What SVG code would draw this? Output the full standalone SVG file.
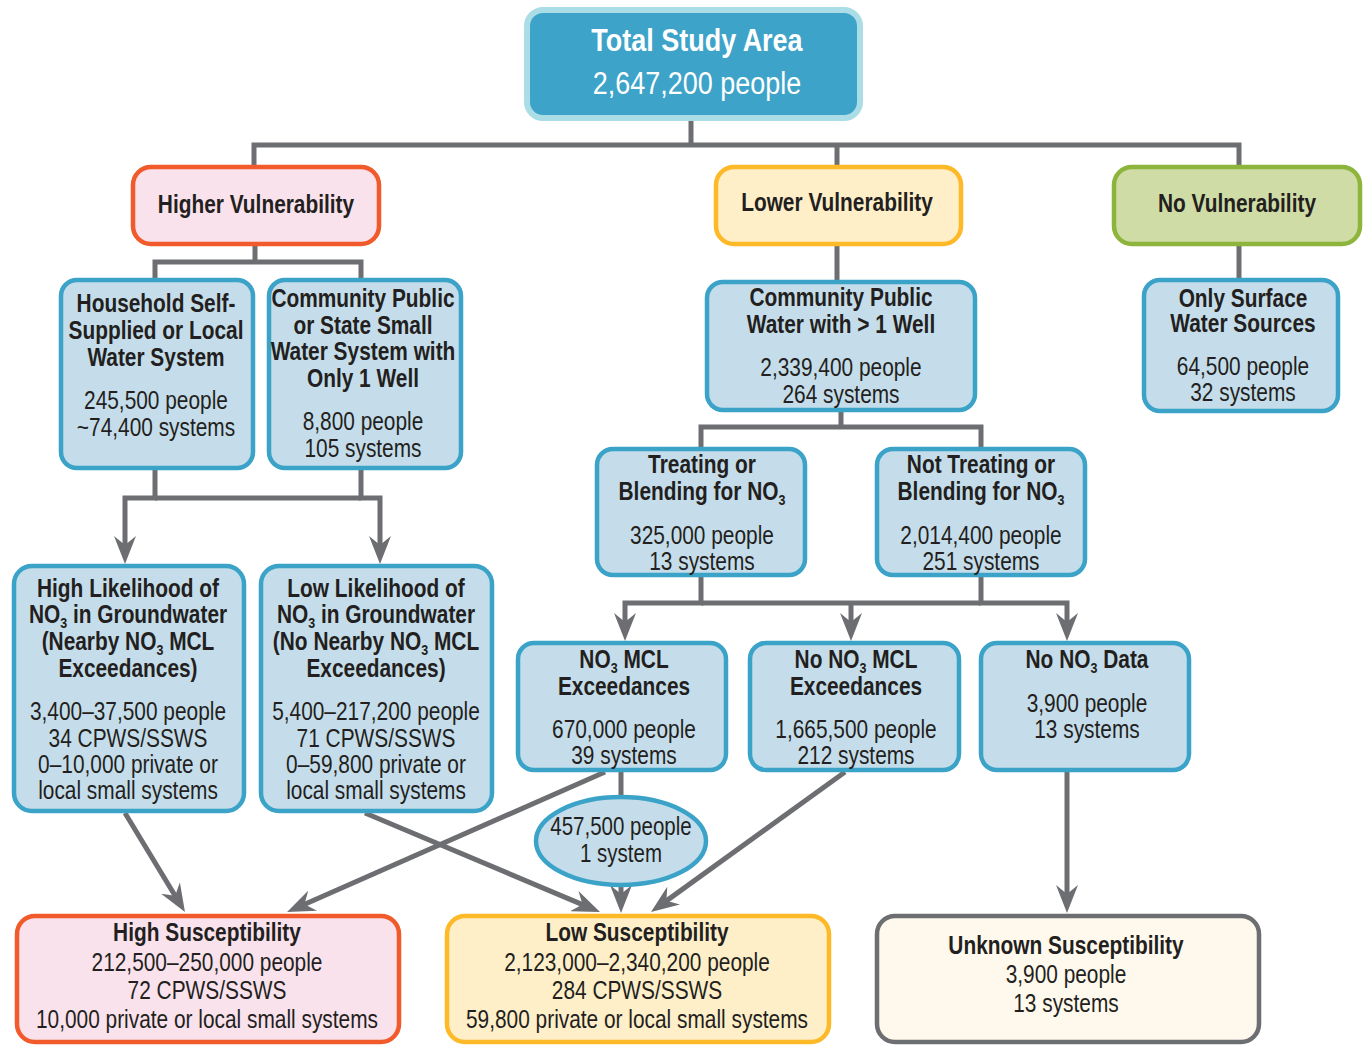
<svg xmlns="http://www.w3.org/2000/svg" width="1369" height="1047" viewBox="0 0 1369 1047">
<style>
.t{font-family:"Liberation Sans Narrow","Liberation Sans",Arial,sans-serif;font-size:25px;fill:#231F20;text-anchor:middle}
.b{font-weight:bold}
.w{fill:#FFFFFF;font-size:31px}
.s{font-size:15px}
.box{fill:#C5DDEA;stroke:#3BA3C8;stroke-width:4.5}
.red{fill:#F9E2EC;stroke:#F15A2B;stroke-width:4.5}
.yel{fill:#FEEFC9;stroke:#FDB927;stroke-width:4.5}
.grn{fill:#CFDCA6;stroke:#8DB53C;stroke-width:4.5}
.gry{fill:#FEF9EC;stroke:#6D6E71;stroke-width:4.5}
.con{stroke:#6D6E71;stroke-width:5;fill:none}
.arr{marker-end:url(#ah)}
</style>
<defs>
<marker id="ah" markerUnits="userSpaceOnUse" viewBox="0 0 28 22" markerWidth="28" markerHeight="22" refX="18" refY="11" orient="auto">
<path d="M0,0 L28,11 L0,22 L9,11 Z" fill="#6D6E71"/>
</marker>
</defs>
<rect width="1369" height="1047" fill="#FFFFFF"/>
<g id="connectors">
<path class="con" d="M254,167 V145 H1239 V167 M691,118 V145 M837,145 V167"/>
<path class="con" d="M255,244 V262 M155,280 V262 H361 V280"/>
<path class="con arr" d="M155,468 V498 H125 V554"/>
<path class="con arr" d="M361,468 V498 H380 V554"/>
<path class="con" d="M155,498 H361"/>
<path class="con" d="M837,244 V282"/>
<path class="con" d="M841,410 V427 M701,449 V427 H981 V449"/>
<path class="con" d="M1239,244 V280"/>
<path class="con arr" d="M701,575 V603 H625 V631"/>
<path class="con arr" d="M981,575 V603 H1067 V631"/>
<path class="con" d="M701,603 H981"/>
<path class="con arr" d="M851,603 V631"/>
<path class="con arr" d="M1067,770 V903"/>
<path class="con" d="M621,770 V797"/>
<path class="con arr" d="M621,885 V903"/>
<path class="con arr" d="M125,813 L179.8,903.5"/>
<path class="con arr" d="M605,772 L296.2,908"/>
<path class="con arr" d="M365,813 L590.8,908.1"/>
<path class="con arr" d="M845,772 L659.1,906.1"/>
</g>
<g id="total">
<rect x="527" y="10" width="333" height="108" rx="16" fill="#3DA3C8" stroke="#AADDE6" stroke-width="6"/>
<g transform="matrix(0.87,0,0,1,90.61,0)">
<text class="t b w" x="697" y="51">Total Study Area</text>
<text class="t w" x="697" y="94">2,647,200 people</text>
</g>
</g>
<g id="higher">
<rect class="red" x="133" y="167" width="246" height="77" rx="18"/>
<g transform="matrix(0.835,0,0,1,42.24,0)">
<text class="t b" x="256" y="213">Higher Vulnerability</text>
</g>
</g>
<g id="lower">
<rect class="yel" x="716" y="167" width="245" height="77" rx="18"/>
<g transform="matrix(0.835,0,0,1,138.105,0)">
<text class="t b" x="837" y="211">Lower Vulnerability</text>
</g>
</g>
<g id="novuln">
<rect class="grn" x="1114" y="167" width="246" height="77" rx="18"/>
<g transform="matrix(0.835,0,0,1,204.105,0)">
<text class="t b" x="1237" y="212">No Vulnerability</text>
</g>
</g>
<g id="household">
<rect class="box" x="61" y="280" width="192" height="188" rx="16"/>
<g transform="matrix(0.835,0,0,1,25.74,0)">
<text class="t b" x="156" y="312">Household Self-</text>
<text class="t b" x="156" y="339">Supplied or Local</text>
<text class="t b" x="156" y="366">Water System</text>
<text class="t" x="156" y="409">245,500 people</text>
<text class="t" x="156" y="436">~74,400 systems</text>
</g>
</g>
<g id="community1">
<rect class="box" x="269" y="280" width="192" height="188" rx="16"/>
<g transform="matrix(0.835,0,0,1,59.895,0)">
<text class="t b" x="363" y="307">Community Public</text>
<text class="t b" x="363" y="334">or State Small</text>
<text class="t b" x="363" y="360">Water System with</text>
<text class="t b" x="363" y="387">Only 1 Well</text>
<text class="t" x="363" y="430">8,800 people</text>
<text class="t" x="363" y="457">105 systems</text>
</g>
</g>
<g id="community2">
<rect class="box" x="707" y="282" width="268" height="128" rx="16"/>
<g transform="matrix(0.835,0,0,1,138.765,0)">
<text class="t b" x="841" y="306">Community Public</text>
<text class="t b" x="841" y="333">Water with &gt; 1 Well</text>
<text class="t" x="841" y="376">2,339,400 people</text>
<text class="t" x="841" y="403">264 systems</text>
</g>
</g>
<g id="surface">
<rect class="box" x="1144" y="280" width="194" height="131" rx="16"/>
<g transform="matrix(0.835,0,0,1,205.095,0)">
<text class="t b" x="1243" y="307">Only Surface</text>
<text class="t b" x="1243" y="332">Water Sources</text>
<text class="t" x="1243" y="375">64,500 people</text>
<text class="t" x="1243" y="401">32 systems</text>
</g>
</g>
<g id="treating">
<rect class="box" x="597" y="449" width="208" height="126" rx="16"/>
<g transform="matrix(0.835,0,0,1,115.83,0)">
<text class="t b" x="702" y="473">Treating or</text>
<text class="t b" x="702" y="500">Blending for NO<tspan class="s" dy="5">3</tspan></text>
<text class="t" x="702" y="544">325,000 people</text>
<text class="t" x="702" y="570">13 systems</text>
</g>
</g>
<g id="nottreating">
<rect class="box" x="877" y="449" width="208" height="126" rx="16"/>
<g transform="matrix(0.835,0,0,1,161.865,0)">
<text class="t b" x="981" y="473">Not Treating or</text>
<text class="t b" x="981" y="500">Blending for NO<tspan class="s" dy="5">3</tspan></text>
<text class="t" x="981" y="544">2,014,400 people</text>
<text class="t" x="981" y="570">251 systems</text>
</g>
</g>
<g id="highlikelihood">
<rect class="box" x="14" y="566" width="230" height="245" rx="18"/>
<g transform="matrix(0.835,0,0,1,21.12,0)">
<text class="t b" x="128" y="597">High Likelihood of</text>
<text class="t b" x="128" y="623">NO<tspan class="s" dy="5">3</tspan><tspan dy="-5"> in Groundwater</tspan></text>
<text class="t b" x="128" y="650">(Nearby NO<tspan class="s" dy="5">3</tspan><tspan dy="-5"> MCL</tspan></text>
<text class="t b" x="128" y="677">Exceedances)</text>
<text class="t" x="128" y="720">3,400–37,500 people</text>
<text class="t" x="128" y="747">34 CPWS/SSWS</text>
<text class="t" x="128" y="773">0–10,000 private or</text>
<text class="t" x="128" y="799">local small systems</text>
</g>
</g>
<g id="lowlikelihood">
<rect class="box" x="261" y="566" width="231" height="245" rx="18"/>
<g transform="matrix(0.835,0,0,1,62.04,0)">
<text class="t b" x="376" y="597">Low Likelihood of</text>
<text class="t b" x="376" y="623">NO<tspan class="s" dy="5">3</tspan><tspan dy="-5"> in Groundwater</tspan></text>
<text class="t b" x="376" y="650">(No Nearby NO<tspan class="s" dy="5">3</tspan><tspan dy="-5"> MCL</tspan></text>
<text class="t b" x="376" y="677">Exceedances)</text>
<text class="t" x="376" y="720">5,400–217,200  people</text>
<text class="t" x="376" y="747">71 CPWS/SSWS</text>
<text class="t" x="376" y="773">0–59,800 private or</text>
<text class="t" x="376" y="799">local small systems</text>
</g>
</g>
<g id="mcl">
<rect class="box" x="518" y="643" width="208" height="127" rx="16"/>
<g transform="matrix(0.835,0,0,1,102.96,0)">
<text class="t b" x="624" y="668">NO<tspan class="s" dy="5">3</tspan><tspan dy="-5"> MCL</tspan></text>
<text class="t b" x="624" y="695">Exceedances</text>
<text class="t" x="624" y="738">670,000 people</text>
<text class="t" x="624" y="764">39 systems</text>
</g>
</g>
<g id="nomcl">
<rect class="box" x="750" y="643" width="209" height="127" rx="16"/>
<g transform="matrix(0.835,0,0,1,141.24,0)">
<text class="t b" x="856" y="668">No NO<tspan class="s" dy="5">3</tspan><tspan dy="-5"> MCL</tspan></text>
<text class="t b" x="856" y="695">Exceedances</text>
<text class="t" x="856" y="738">1,665,500 people</text>
<text class="t" x="856" y="764">212 systems</text>
</g>
</g>
<g id="nodata">
<rect class="box" x="981" y="643" width="208" height="127" rx="16"/>
<g transform="matrix(0.835,0,0,1,179.355,0)">
<text class="t b" x="1087" y="668">No NO<tspan class="s" dy="5">3</tspan><tspan dy="-5"> Data</tspan></text>
<text class="t" x="1087" y="712">3,900 people</text>
<text class="t" x="1087" y="738">13 systems</text>
</g>
</g>
<g id="onesystem">
<ellipse class="box" cx="621" cy="841" rx="85" ry="44"/>
<g transform="matrix(0.82,0,0,1,111.78,0)">
<text class="t" x="621" y="835">457,500 people</text>
<text class="t" x="621" y="862">1 system</text>
</g>
</g>
<g id="highsusc">
<rect class="red" x="17" y="916" width="382" height="126" rx="18"/>
<g transform="matrix(0.835,0,0,1,34.155,0)">
<text class="t b" x="207" y="941">High Susceptibility</text>
<text class="t" x="207" y="971">212,500–250,000 people</text>
<text class="t" x="207" y="999">72 CPWS/SSWS</text>
<text class="t" x="207" y="1028">10,000 private or local small systems</text>
</g>
</g>
<g id="lowsusc">
<rect class="yel" x="447" y="916" width="382" height="126" rx="18"/>
<g transform="matrix(0.835,0,0,1,105.105,0)">
<text class="t b" x="637" y="941">Low Susceptibility</text>
<text class="t" x="637" y="971">2,123,000–2,340,200 people</text>
<text class="t" x="637" y="999">284 CPWS/SSWS</text>
<text class="t" x="637" y="1028">59,800 private or local small systems</text>
</g>
</g>
<g id="unknownsusc">
<rect class="gry" x="877" y="916" width="382" height="126" rx="18"/>
<g transform="matrix(0.835,0,0,1,175.89,0)">
<text class="t b" x="1066" y="954">Unknown Susceptibility</text>
<text class="t" x="1066" y="983">3,900 people</text>
<text class="t" x="1066" y="1012">13 systems</text>
</g>
</g>
</svg>
